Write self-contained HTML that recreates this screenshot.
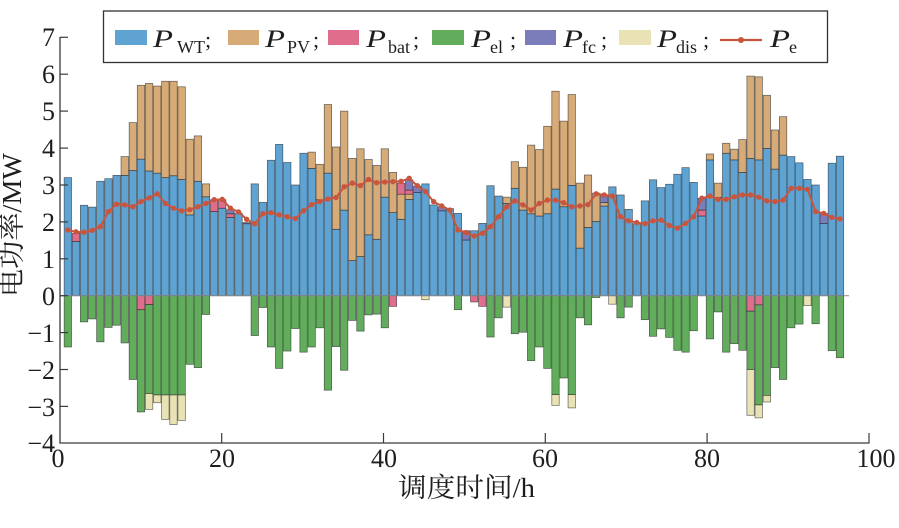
<!DOCTYPE html>
<html>
<head>
<meta charset="utf-8">
<style>
html,body{margin:0;padding:0;background:#fff;}
svg{display:block;}
text{font-family:"Liberation Serif","Noto Serif CJK SC",serif;fill:#1e1e1e;}
</style>
</head>
<body>
<svg id="chart" width="899" height="528" viewBox="0 0 899 528" xmlns="http://www.w3.org/2000/svg">
<rect x="0" y="0" width="899" height="528" fill="#fff"/>
<g id="bars"></g>
<line x1="60" y1="295.7" x2="849" y2="295.7" stroke="#8a8a8a" stroke-width="1"/>
<g id="pe"></g>

<!-- axes -->
<line x1="60" y1="37" x2="60" y2="443.4" stroke="#3a3a3a" stroke-width="1.3"/>
<line x1="59.4" y1="443" x2="869.5" y2="443" stroke="#3a3a3a" stroke-width="1.3"/>

<!-- y ticks -->
<g stroke="#3a3a3a" stroke-width="1.2">
<line x1="60" y1="37.3" x2="68" y2="37.3"/>
<line x1="60" y1="74.2" x2="68" y2="74.2"/>
<line x1="60" y1="111.1" x2="68" y2="111.1"/>
<line x1="60" y1="148.1" x2="68" y2="148.1"/>
<line x1="60" y1="185" x2="68" y2="185"/>
<line x1="60" y1="221.9" x2="68" y2="221.9"/>
<line x1="60" y1="258.8" x2="68" y2="258.8"/>
<line x1="60" y1="295.7" x2="68" y2="295.7"/>
<line x1="60" y1="332.6" x2="68" y2="332.6"/>
<line x1="60" y1="369.5" x2="68" y2="369.5"/>
<line x1="60" y1="406.4" x2="68" y2="406.4"/>
</g>
<g font-size="26" text-anchor="end">
<text x="55" y="46">7</text>
<text x="55" y="83">6</text>
<text x="55" y="120">5</text>
<text x="55" y="157">4</text>
<text x="55" y="194">3</text>
<text x="55" y="231">2</text>
<text x="55" y="268">1</text>
<text x="55" y="305">0</text>
<text x="55" y="342">−1</text>
<text x="55" y="379">−2</text>
<text x="55" y="416">−3</text>
<text x="55" y="452">−4</text>
</g>

<!-- x ticks -->
<g stroke="#3a3a3a" stroke-width="1.2">
<line x1="221.7" y1="443" x2="221.7" y2="433"/>
<line x1="383.5" y1="443" x2="383.5" y2="433"/>
<line x1="545.3" y1="443" x2="545.3" y2="433"/>
<line x1="707.1" y1="443" x2="707.1" y2="433"/>
<line x1="869" y1="443" x2="869" y2="433"/>
</g>
<g font-size="26" text-anchor="middle">
<text x="58" y="467">0</text>
<text x="222" y="467">20</text>
<text x="384" y="467">40</text>
<text x="545" y="467">60</text>
<text x="707" y="467">80</text>
<text x="876" y="467">100</text>
</g>

<!-- axis labels -->
<text x="466.5" y="497" font-size="27" text-anchor="middle" textLength="137" lengthAdjust="spacingAndGlyphs">调度时间/h</text>
<text transform="translate(21,225) rotate(-90)" font-size="27" text-anchor="middle" textLength="144" lengthAdjust="spacingAndGlyphs">电功率/MW</text>

<!-- legend -->
<rect x="103.5" y="11" width="724" height="51.5" fill="#fff" stroke="#333" stroke-width="1.3"/>
<rect x="115" y="30" width="32" height="15" fill="#5fa3d3"/>
<rect x="228" y="30" width="31" height="15" fill="#d7ab78"/>
<rect x="328" y="30" width="31" height="15" fill="#e06d8c"/>
<rect x="432" y="30" width="32" height="15" fill="#62ad5c"/>
<rect x="525" y="30" width="31" height="15" fill="#7b7cba"/>
<rect x="619" y="30" width="32" height="15" fill="#e8e2b5"/>
<line x1="720" y1="40" x2="762" y2="40" stroke="#c9553f" stroke-width="2.2"/>
<circle cx="741" cy="40" r="3" fill="#c9553f"/>

<g font-size="25" font-style="italic">
<text x="153" y="47" textLength="20" lengthAdjust="spacingAndGlyphs">P</text>
<text x="265" y="47" textLength="20" lengthAdjust="spacingAndGlyphs">P</text>
<text x="366" y="47" textLength="20" lengthAdjust="spacingAndGlyphs">P</text>
<text x="471" y="47" textLength="20" lengthAdjust="spacingAndGlyphs">P</text>
<text x="563" y="47" textLength="20" lengthAdjust="spacingAndGlyphs">P</text>
<text x="657" y="47" textLength="20" lengthAdjust="spacingAndGlyphs">P</text>
<text x="770" y="47" textLength="20" lengthAdjust="spacingAndGlyphs">P</text>
</g>
<g font-size="18">
<text x="177" y="53">WT</text>
<text x="287" y="53">PV</text>
<text x="388" y="53">bat</text>
<text x="490" y="53">el</text>
<text x="582" y="53">fc</text>
<text x="676" y="53">dis</text>
<text x="789" y="53">e</text>
</g>
<g font-size="22">
<text x="205" y="47">;</text>
<text x="313" y="47">;</text>
<text x="413" y="47">;</text>
<text x="510" y="47">;</text>
<text x="601" y="47">;</text>
<text x="703" y="47">;</text>
</g>
</svg>

<script>
(function(){
var D=[
[3.2,0,0,0,0,-1.39,0,1.78],
[1.47,0,1.69,0,0,0,0,1.73],
[2.45,0,0,0,0,-0.71,0,1.72],
[2.4,0,0,0,0,-0.63,0,1.77],
[3.1,0,0,0,0,-1.25,0,1.87],
[3.17,0,0,0,0,-0.86,0,2.28],
[3.26,0,0,0,0,-0.8,0,2.48],
[3.26,3.77,0,0,0,-1.28,0,2.46],
[3.39,4.69,0,0,0,-2.27,0,2.41],
[3.7,5.7,0,0,-0.38,-3.15,0,2.55],
[3.38,5.75,0,0,-0.24,-2.65,-3.08,2.65],
[3.32,5.68,0,0,0,-2.69,-2.9,2.76],
[3.2,5.81,0,0,0,-2.69,-3.35,2.5],
[3.25,5.81,0,0,0,-2.69,-3.49,2.37],
[3.15,5.66,0,0,0,-2.69,-3.38,2.3],
[2.19,4.24,0,0,0,-1.86,0,2.33],
[3.1,4.33,0,0,0,-1.95,0,2.41],
[2.68,3.03,0,0,0,-0.51,0,2.5],
[2.28,0,2.6,0,0,0,0,2.6],
[2.37,0,2.6,0,0,0,0,2.61],
[2.12,0,2.22,2.33,0,0,0,2.37],
[2.24,0,0,0,0,0,0,2.27],
[1.95,0,0,1.98,0,0,0,2.07],
[3.03,0,0,0,0,-1.08,0,1.95],
[2.53,0,0,0,0,-0.32,0,2.22],
[3.67,0,0,0,0,-1.39,0,2.25],
[4.1,0,0,0,0,-1.97,0,2.19],
[3.61,0,0,0,0,-1.5,0,2.14],
[3.0,0,0,0,0,-0.89,0,2.09],
[3.86,0,0,0,0,-1.53,0,2.3],
[3.45,3.89,0,0,0,-1.39,0,2.47],
[2.6,3.56,0,0,0,-0.87,0,2.55],
[3.32,5.18,0,0,0,-2.56,0,2.62],
[1.8,4.03,0,0,0,-1.38,0,2.66],
[2.32,5.0,0,0,0,-2.02,0,2.95],
[0.95,3.72,0,0,0,-0.67,0,3.05],
[1.06,3.98,0,0,0,-0.96,0,2.98],
[1.65,3.69,0,0,0,-0.52,0,3.15],
[1.53,3.53,0,0,0,-0.5,0,3.06],
[2.67,3.98,0,0,0,-0.87,0,3.08],
[2.25,3.34,0,0,-0.29,0,0,3.09],
[2.07,2.75,3.05,0,0,0,0,3.1],
[2.61,2.75,2.86,3.14,0,0,0,3.18],
[2.8,0,0,2.97,0,0,0,2.98],
[3.03,0,0,0,0,0,-0.11,2.82],
[2.46,0,0,0,0,0,0,2.55],
[2.3,0,0,2.41,0,0,0,2.43],
[2.36,0,0,0,0,0,0,2.32],
[2.23,0,0,0,0,-0.38,0,1.78],
[1.51,0,0,1.76,0,0,0,1.71],
[1.76,0,0,0,-0.17,0,0,1.62],
[1.96,0,0,0,-0.29,0,0,1.69],
[2.98,0,0,0,0,-1.12,0,1.87],
[2.7,0,0,0,0,-0.6,0,2.14],
[2.5,2.67,0,0,0,0,-0.31,2.41],
[2.91,3.63,0,0,0,-1.03,0,2.57],
[2.32,3.48,0,0,0,-0.99,0,2.46],
[2.22,4.08,0,0,0,-1.76,0,2.32],
[2.16,3.96,0,0,0,-1.39,0,2.5],
[2.22,4.59,0,0,0,-1.97,0,2.59],
[2.89,5.54,0,0,0,-2.68,-2.97,2.59],
[2.41,4.73,0,0,0,-2.23,0,2.52],
[2.99,5.45,0,0,0,-2.68,-3.04,2.41],
[1.29,3.05,0,0,0,-0.6,0,2.43],
[1.85,3.27,0,0,0,-0.79,0,2.47],
[2.01,2.78,0,0,0,-0.05,0,2.76],
[2.43,2.52,0,2.72,0,0,0,2.73],
[2.95,0,0,0,0,0,-0.23,2.7],
[2.73,0,0,0,0,-0.6,0,2.14],
[2.34,0,0,0,0,-0.31,0,2.03],
[1.95,0,0,0,0,0,0,1.98],
[2.57,0,0,0,0,-0.65,0,1.95],
[3.14,0,0,0,0,-1.1,0,2.03],
[2.93,0,0,0,0,-0.9,0,2.05],
[3.02,0,0,0,0,-1.13,0,1.9],
[3.29,0,0,0,0,-1.48,0,1.83],
[3.47,0,0,0,0,-1.53,0,1.96],
[3.07,0,0,0,0,-0.95,0,2.14],
[2.16,0,2.32,2.64,0,0,0,2.64],
[3.68,3.84,0,0,0,-1.17,0,2.7],
[2.66,3.05,0,0,0,-0.44,0,2.61],
[3.86,4.13,0,0,0,-1.53,0,2.61],
[3.68,3.97,0,0,0,-1.3,0,2.68],
[3.34,4.23,0,0,0,-1.48,0,2.73],
[3.72,5.95,0,0,-0.42,-2.0,-3.24,2.73],
[3.68,5.93,0,0,-0.25,-2.96,-3.31,2.67],
[3.99,5.43,0,0,0,-2.7,-2.88,2.57],
[3.43,4.49,0,0,0,-1.95,0,2.55],
[3.81,4.85,0,0,0,-2.27,0,2.59],
[3.77,0,0,0,0,-0.87,0,2.91],
[3.6,0,0,0,0,-0.77,0,2.91],
[3.15,0,0,0,0,0,-0.27,2.88],
[3.0,0,0,0,0,-0.76,0,2.28],
[1.96,0,0,2.23,0,0,0,2.23],
[3.59,0,0,0,0,-1.49,0,2.12],
[3.78,0,0,0,0,-1.68,0,2.08]
];
var C={w:"#5fa3d3",p:"#d7ab78",b:"#e06d8c",e:"#62ad5c",f:"#7b7cba",d:"#e8e2b5"};
function X(i){return 59.7+8.128*i;}
function Y(v){return 295.7-36.91*v;}
var bw=7.4, segs=[];
D.forEach(function(r,k){
  var i=k+1, cur=0;
  segs.push(["w",i,0,r[0]]); cur=r[0];
  if(r[1]){segs.push(["p",i,cur,r[1]]);cur=r[1];}
  if(r[2]){segs.push(["b",i,cur,r[2]]);cur=r[2];}
  if(r[3]){segs.push(["f",i,cur,r[3]]);cur=r[3];}
  var n=0;
  if(r[4]){segs.push(["b",i,n,r[4]]);n=r[4];}
  if(r[5]){segs.push(["e",i,n,r[5]]);n=r[5];}
  if(r[6]){segs.push(["d",i,n,r[6]]);n=r[6];}
});
var order=["w","p","b","e","f","d"], h="";
order.forEach(function(t){
  segs.forEach(function(s){
    if(s[0]!==t)return;
    var y1=Y(Math.max(s[2],s[3])), y2=Y(Math.min(s[2],s[3]));
    h+='<rect x="'+(X(s[1])-bw/2).toFixed(2)+'" y="'+y1.toFixed(2)+'" width="'+bw+'" height="'+(y2-y1).toFixed(2)+'" fill="'+C[t]+'" stroke="#1a1a1a" stroke-opacity="0.65" stroke-width="0.7"/>';
  });
});
document.getElementById("bars").innerHTML=h;
var pts=D.map(function(r,k){return X(k+1).toFixed(2)+","+Y(r[7]).toFixed(2);});
var g='<polyline points="'+pts.join(" ")+'" fill="none" stroke="#c9553f" stroke-width="2" stroke-linejoin="round"/>';
D.forEach(function(r,k){g+='<circle cx="'+X(k+1).toFixed(2)+'" cy="'+Y(r[7]).toFixed(2)+'" r="2.7" fill="#c9553f"/>';});
document.getElementById("pe").innerHTML=g;
})();
</script>
</body>
</html>
